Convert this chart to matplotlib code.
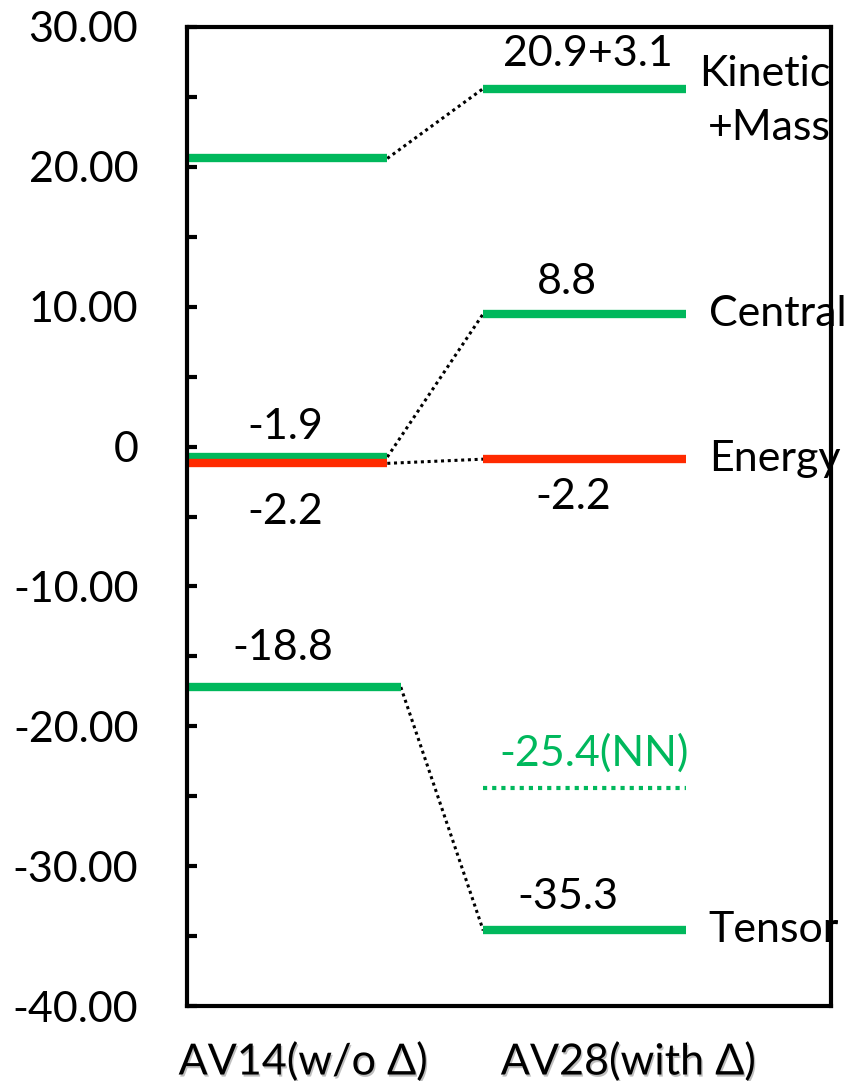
import matplotlib.pyplot as plt
from matplotlib import patheffects as pe

plt.rcParams['font.family'] = ['Lato', 'DejaVu Sans']

# level values (MeV) as drawn
av14_levels = {'Kinetic': 20.6, 'Central': -0.75, 'Energy': -1.2, 'Tensor': -17.2}
av28_levels = {'Kinetic': 25.6, 'Central': 9.5, 'Energy': -0.9, 'Tensor': -34.6}
av28_nn_tensor = -24.4

av14_labels = {'Central': '-1.9', 'Energy': '-2.2', 'Tensor': '-18.8'}
av28_labels = {'Kinetic': '20.9+3.1', 'Central': '8.8', 'Energy': '-2.2', 'Tensor': '-35.3'}
nn_label = '-25.4(NN)'
side_labels = {'Kinetic': 'Kinetic\n+Mass', 'Central': 'Central', 'Energy': 'Energy', 'Tensor': 'Tensor'}

models = ['AV14(w/o Δ)', 'AV28(with Δ)']
yticks = [30, 20, 10, 0, -10, -20, -30, -40]
yticklabels = ['30.00', '20.00', '10.00', '0', '-10.00', '-20.00', '-30.00', '-40.00']

colors = {'Kinetic': '#00B85C', 'Central': '#00B85C', 'Energy': '#FF2A00', 'Tensor': '#00B85C'}

# horizontal layout (axes fraction)
x14 = (0.0, 0.311)
x14_tensor = (0.0, 0.332)
x28 = (0.46, 0.775)

fig = plt.figure(figsize=(8.47, 10.81), dpi=100)
ax = fig.add_axes([187 / 847, 1 - 1006 / 1081, 644 / 847, 979 / 1081])
ax.set_xlim(0, 1)
ax.set_ylim(-40, 30)

lw = 6
for key in ['Kinetic', 'Central', 'Energy', 'Tensor']:
    xa = x14_tensor if key == 'Tensor' else x14
    ax.plot(xa, [av14_levels[key]] * 2, color=colors[key], lw=lw, solid_capstyle='butt', zorder=3)
    ax.plot(x28, [av28_levels[key]] * 2, color=colors[key], lw=lw, solid_capstyle='butt', zorder=3)
    ax.plot([xa[1], x28[0]], [av14_levels[key], av28_levels[key]], color='black',
            lw=2.2, ls=(0, (1, 1.2)), zorder=2)

ax.plot(x28, [av28_nn_tensor] * 2, color='#00B85C', lw=3, ls=(0, (1, 1.2)), zorder=3)

fs = 31
# value labels: (x centre, y offset in points)
lab14 = {'Central': (0.152, 22), 'Energy': (0.152, -35), 'Tensor': (0.149, 28)}
lab28 = {'Kinetic': (0.623, 25), 'Central': (0.590, 23), 'Energy': (0.600, -27), 'Tensor': (0.592, 24)}
for key, txt in av14_labels.items():
    x, dy = lab14[key]
    ax.annotate(txt, (x, av14_levels[key]), xytext=(0, dy), textcoords='offset points',
                ha='center', va='center', fontsize=fs)
for key, txt in av28_labels.items():
    x, dy = lab28[key]
    ax.annotate(txt, (x, av28_levels[key]), xytext=(0, dy), textcoords='offset points',
                ha='center', va='center', fontsize=fs)
ax.annotate(nn_label, (0.632, av28_nn_tensor), xytext=(0, 25), textcoords='offset points',
            ha='center', va='center', fontsize=fs, color='#00B85C')

side_x = {'Kinetic': 0.795, 'Central': 0.81, 'Energy': 0.81, 'Tensor': 0.81}
side_dy = {'Kinetic': -9, 'Central': 0, 'Energy': 0, 'Tensor': 0}
for key, txt in side_labels.items():
    ax.annotate(txt, (side_x[key], av28_levels[key]), xytext=(0, side_dy[key]),
                textcoords='offset points', ha='left', va='center', fontsize=fs,
                multialignment='right', linespacing=1.5, zorder=1, annotation_clip=False)

ax.set_yticks(yticks)
ax.set_yticklabels(yticklabels, fontsize=fs)
ax.set_yticks([25, 15, 5, -5, -15, -25, -35], minor=True)
ax.tick_params(axis='y', which='both', direction='in', length=7, width=3, pad=35, left=True, right=False)
ax.set_xticks([0.18, 0.685])
ax.set_xticklabels(models, fontsize=fs,
                   path_effects=[pe.withSimplePatchShadow(offset=(1, -1.5), alpha=0.25)])
ax.tick_params(axis='x', length=0, pad=26)

for s in ax.spines.values():
    s.set_linewidth(3)
    s.set_zorder(5)

fig.savefig('out.png', dpi=100)
